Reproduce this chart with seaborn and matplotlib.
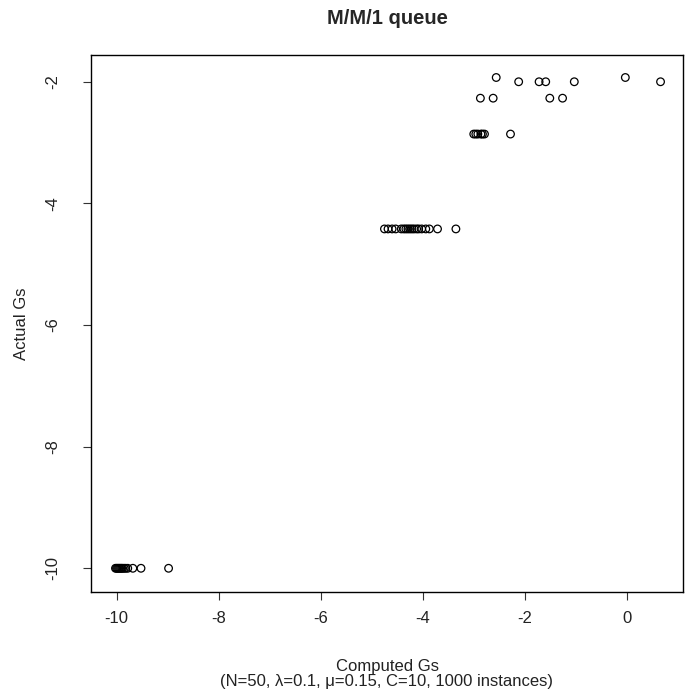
import matplotlib
matplotlib.use("Agg")
import matplotlib.pyplot as plt
import seaborn as sns
import pandas as pd

# Data (computed vs actual Gs)
row_top_x = [-2.56, -0.03]
row_top_y = -1.93
row_2_x = [-2.12, -1.72, -1.59, -1.03, 0.66]
row_2_y = -2.0
row_227_x = [-2.87, -2.62, -1.51, -1.26]
row_227_y = -2.27
row_286_x = [-3.0, -2.96, -2.92, -2.86, -2.83, -2.79, -2.28]
row_286_y = -2.86
row_442_x = [-4.75, -4.68, -4.60, -4.53, -4.42, -4.37, -4.33, -4.29, -4.25,
             -4.21, -4.17, -4.12, -4.08, -4.02, -3.94, -3.87, -3.71, -3.35]
row_442_y = -4.42
row_10_x = [-10.02, -10.0, -9.98, -9.96, -9.94, -9.92, -9.9, -9.88, -9.85,
            -9.82, -9.78, -9.68, -9.52, -8.98]
row_10_y = -10.0

xticks = [-10, -8, -6, -4, -2, 0]
yticks = [-10, -8, -6, -4, -2]

rows = [(row_top_x, row_top_y), (row_2_x, row_2_y), (row_227_x, row_227_y),
        (row_286_x, row_286_y), (row_442_x, row_442_y), (row_10_x, row_10_y)]
computed = []
actual = []
for xs, y in rows:
    computed += xs
    actual += [y] * len(xs)
df = pd.DataFrame({"Computed Gs": computed, "Actual Gs": actual})

sns.set_style("white")
plt.rcParams["font.family"] = ["Liberation Sans", "DejaVu Sans"]

fig = plt.figure(figsize=(6.85, 6.91), dpi=100)
ax = fig.add_axes([91 / 685, 1 - 592 / 691, (683 - 91) / 685, (592 - 55) / 691])

sns.scatterplot(data=df, x="Computed Gs", y="Actual Gs", ax=ax, marker="o",
                s=30, facecolor="none", edgecolor="black", linewidth=0.9)

ax.set_xlim(-10.5, 1.1)
ax.set_ylim(-10.39, -1.56)
ax.set_xticks(xticks)
ax.set_yticks(yticks)
ax.set_xticklabels([str(t) for t in xticks])
ax.set_yticklabels([str(t) for t in yticks])
for sp in ax.spines.values():
    sp.set_visible(True)
    sp.set_color("black")
    sp.set_linewidth(1.0)

ax.tick_params(axis="both", direction="out", length=5.5, width=0.8,
               color="#333333", labelsize=12, labelcolor="#222222",
               bottom=True, left=True)
ax.tick_params(axis="x", pad=8)
ax.tick_params(axis="y", pad=22)
plt.setp(ax.get_yticklabels(), rotation=90, va="center", ha="center")

ax.set_xlabel("Computed Gs\n(N=50, \u03bb=0.1, \u03bc=0.15, C=10, 1000 instances)",
              fontsize=12, color="#222222", labelpad=24, linespacing=1.0)
ax.set_ylabel("Actual Gs", fontsize=12, color="#222222", labelpad=12)
ax.set_title("M/M/1 queue", fontsize=14.5, fontweight="bold", pad=22)

fig.savefig("out.png", dpi=100, facecolor="white")
